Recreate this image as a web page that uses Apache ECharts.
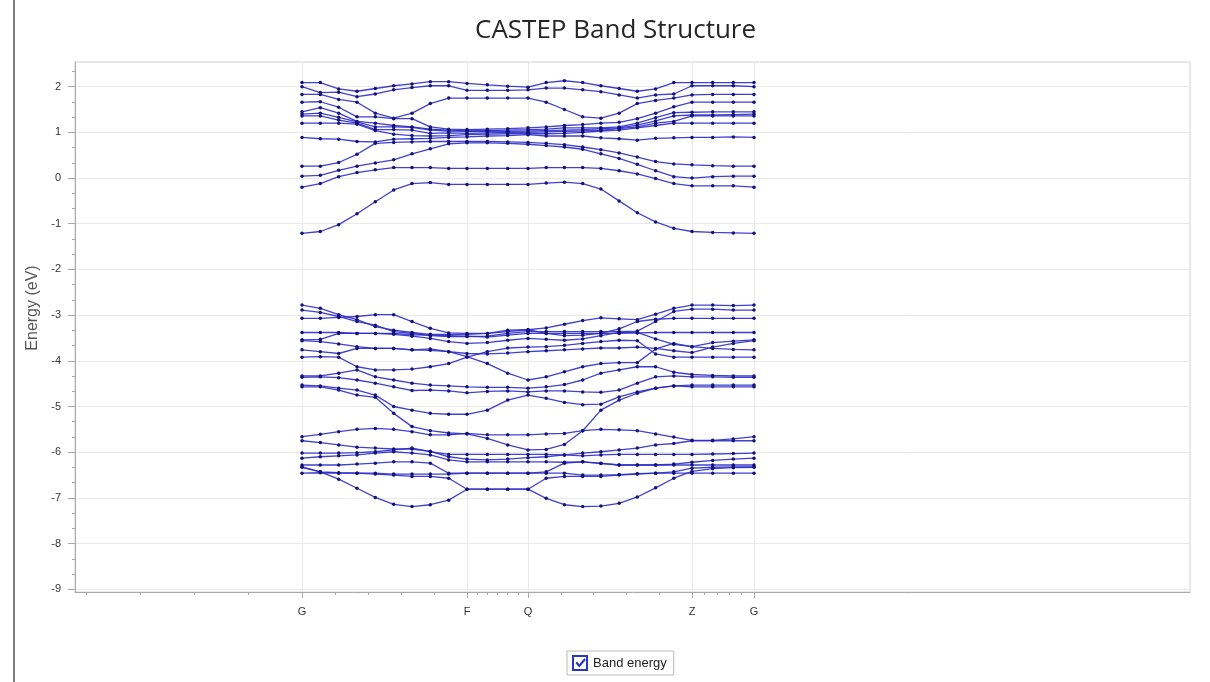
<!DOCTYPE html>
<html>
<head>
<meta charset="UTF-8" />
<title>CASTEP Band Structure</title>
<script src="https://cdn.jsdelivr.net/npm/echarts@6/dist/echarts.min.js"></script>
<style>
  html, body { margin: 0; padding: 0; background: #fff; }
  #chart { width: 1210px; height: 682px; }
</style>
</head>
<body>
<div id="chart"></div>
<script>
// k-path positions (path length, arbitrary units) of the 25 k-points
const kPath = [0, 0.183, 0.367, 0.55, 0.733, 0.917, 1.10, 1.283, 1.467, 1.65,
  1.853, 2.057, 2.26, 2.442, 2.624, 2.807, 2.989, 3.171, 3.353, 3.536, 3.718, 3.90,
  4.107, 4.313, 4.52];

// high-symmetry points
const symPositions = [0, 1.65, 2.26, 3.90, 4.52];
const symLabels = ['G', 'F', 'Q', 'Z', 'G'];
// small ticks along the path axis
const pathMinorTicks = [-2.16, -1.62, -1.08, -0.54, 0.33, 0.66, 0.99, 1.32,
  1.752, 1.853, 1.955, 2.057, 2.158, 2.588, 2.916, 3.244, 3.572,
  4.024, 4.148, 4.272, 4.396];

const energyTicks = [-9, -8, -7, -6, -5, -4, -3, -2, -1, 0, 1, 2];
const energyMinorTicks = [-8.667, -8.333, -7.667, -7.333, -6.667, -6.333, -5.667, -5.333,
  -4.667, -4.333, -3.667, -3.333, -2.667, -2.333, -1.667, -1.333, -0.667, -0.333,
  0.333, 0.667, 1.333, 1.667, 2.333];

// conduction bands (eV)
const cb01 = [-1.21, -1.17, -1.02, -0.78, -0.52, -0.26, -0.12, -0.10, -0.14, -0.14, -0.14, -0.14, -0.14, -0.11, -0.09, -0.12, -0.24, -0.50, -0.76, -0.96, -1.10, -1.17, -1.19, -1.20, -1.21];
const cb02 = [-0.20, -0.12, 0.03, 0.12, 0.18, 0.23, 0.23, 0.23, 0.21, 0.21, 0.21, 0.21, 0.21, 0.23, 0.23, 0.23, 0.21, 0.16, 0.09, -0.01, -0.12, -0.17, -0.17, -0.17, -0.20];
const cb03 = [0.04, 0.06, 0.17, 0.26, 0.33, 0.40, 0.53, 0.64, 0.75, 0.77, 0.77, 0.76, 0.74, 0.71, 0.68, 0.63, 0.53, 0.43, 0.30, 0.16, 0.03, 0.00, 0.03, 0.04, 0.04];
const cb04 = [0.26, 0.26, 0.34, 0.52, 0.76, 0.78, 0.79, 0.80, 0.80, 0.80, 0.80, 0.79, 0.78, 0.76, 0.73, 0.68, 0.62, 0.55, 0.46, 0.36, 0.31, 0.29, 0.27, 0.26, 0.26];
const cb05 = [0.89, 0.86, 0.85, 0.80, 0.79, 0.85, 0.86, 0.87, 0.89, 0.90, 0.92, 0.93, 0.95, 0.92, 0.92, 0.92, 0.88, 0.86, 0.83, 0.87, 0.88, 0.89, 0.89, 0.90, 0.89];
const cb06 = [1.20, 1.20, 1.20, 1.18, 1.04, 0.96, 0.93, 0.92, 0.93, 0.95, 0.96, 0.97, 0.97, 0.97, 0.98, 1.00, 1.03, 1.05, 1.10, 1.15, 1.20, 1.20, 1.20, 1.20, 1.20];
const cb07 = [1.36, 1.36, 1.27, 1.20, 1.06, 1.06, 1.05, 0.98, 0.99, 0.98, 0.99, 1.00, 1.00, 1.01, 1.02, 1.03, 1.05, 1.08, 1.12, 1.20, 1.24, 1.36, 1.36, 1.36, 1.36];
const cb08 = [1.40, 1.42, 1.33, 1.23, 1.12, 1.12, 1.11, 1.05, 1.03, 1.02, 1.02, 1.02, 1.03, 1.04, 1.05, 1.06, 1.08, 1.10, 1.16, 1.25, 1.36, 1.38, 1.38, 1.39, 1.40];
const cb09 = [1.45, 1.54, 1.42, 1.24, 1.20, 1.15, 1.12, 1.07, 1.05, 1.04, 1.04, 1.05, 1.06, 1.07, 1.10, 1.10, 1.10, 1.12, 1.20, 1.32, 1.43, 1.44, 1.45, 1.45, 1.45];
const cb10 = [1.66, 1.67, 1.55, 1.34, 1.34, 1.30, 1.30, 1.12, 1.07, 1.06, 1.07, 1.08, 1.10, 1.12, 1.15, 1.17, 1.20, 1.22, 1.30, 1.42, 1.56, 1.66, 1.66, 1.66, 1.66];
const cb11 = [1.83, 1.83, 1.72, 1.66, 1.42, 1.31, 1.42, 1.63, 1.75, 1.75, 1.75, 1.75, 1.75, 1.66, 1.50, 1.34, 1.31, 1.42, 1.63, 1.70, 1.75, 1.82, 1.83, 1.83, 1.83];
const cb12 = [2.00, 1.87, 1.88, 1.78, 1.84, 1.93, 1.98, 2.02, 2.02, 1.92, 1.92, 1.92, 1.93, 1.97, 1.97, 1.93, 1.89, 1.82, 1.75, 1.82, 1.84, 2.02, 2.02, 2.02, 2.00];
const cb13 = [2.09, 2.09, 1.95, 1.90, 1.96, 2.02, 2.06, 2.11, 2.11, 2.07, 2.04, 2.01, 1.99, 2.09, 2.13, 2.09, 2.02, 1.96, 1.90, 1.95, 2.09, 2.09, 2.09, 2.09, 2.09];

// valence bands (eV)
const vb01 = [-2.78, -2.85, -2.99, -3.10, -3.25, -3.33, -3.38, -3.42, -3.42, -3.42, -3.40, -3.36, -3.32, -3.28, -3.20, -3.12, -3.06, -3.08, -3.10, -2.98, -2.85, -2.78, -2.78, -2.79, -2.78];
const vb02 = [-2.89, -2.94, -3.03, -3.14, -3.22, -3.36, -3.40, -3.45, -3.47, -3.47, -3.46, -3.40, -3.36, -3.36, -3.36, -3.36, -3.36, -3.36, -3.35, -3.14, -2.92, -2.87, -2.87, -2.89, -2.89];
const vb03 = [-3.07, -3.07, -3.05, -3.03, -2.99, -2.99, -3.14, -3.29, -3.39, -3.40, -3.40, -3.33, -3.32, -3.40, -3.45, -3.44, -3.40, -3.30, -3.14, -3.09, -3.07, -3.07, -3.07, -3.07, -3.07];
const vb04 = [-3.38, -3.38, -3.38, -3.40, -3.40, -3.40, -3.43, -3.44, -3.45, -3.46, -3.48, -3.44, -3.40, -3.40, -3.40, -3.40, -3.40, -3.40, -3.39, -3.38, -3.38, -3.38, -3.38, -3.38, -3.38];
const vb05 = [-3.54, -3.53, -3.40, -3.40, -3.40, -3.42, -3.46, -3.51, -3.58, -3.62, -3.60, -3.55, -3.51, -3.53, -3.55, -3.52, -3.45, -3.38, -3.38, -3.52, -3.64, -3.69, -3.60, -3.57, -3.54];
const vb06 = [-3.56, -3.58, -3.63, -3.69, -3.73, -3.73, -3.76, -3.77, -3.80, -3.84, -3.85, -3.83, -3.80, -3.78, -3.76, -3.74, -3.72, -3.72, -3.70, -3.73, -3.78, -3.82, -3.70, -3.62, -3.56];
const vb07 = [-3.76, -3.80, -3.84, -3.73, -3.73, -3.73, -3.76, -3.74, -3.80, -3.91, -4.06, -4.27, -4.42, -4.35, -4.24, -4.13, -4.06, -4.04, -4.04, -3.74, -3.62, -3.69, -3.73, -3.75, -3.76];
const vb08 = [-3.92, -3.91, -3.92, -4.13, -4.20, -4.20, -4.18, -4.13, -4.06, -3.92, -3.80, -3.72, -3.70, -3.69, -3.66, -3.62, -3.58, -3.55, -3.56, -3.85, -3.92, -3.92, -3.92, -3.92, -3.92];
const vb09 = [-4.33, -4.33, -4.27, -4.20, -4.35, -4.42, -4.49, -4.53, -4.55, -4.57, -4.58, -4.58, -4.60, -4.57, -4.52, -4.42, -4.27, -4.20, -4.13, -4.13, -4.25, -4.30, -4.32, -4.33, -4.33];
const vb10 = [-4.36, -4.35, -4.37, -4.42, -4.49, -4.57, -4.65, -4.64, -4.66, -4.70, -4.67, -4.66, -4.68, -4.66, -4.66, -4.68, -4.69, -4.64, -4.49, -4.35, -4.33, -4.35, -4.35, -4.36, -4.36];
const vb11 = [-4.53, -4.55, -4.60, -4.64, -4.75, -5.00, -5.08, -5.15, -5.17, -5.17, -5.08, -4.86, -4.75, -4.82, -4.91, -4.96, -4.95, -4.79, -4.68, -4.60, -4.55, -4.53, -4.53, -4.53, -4.53];
const vb12 = [-4.57, -4.57, -4.64, -4.75, -4.80, -5.15, -5.44, -5.53, -5.58, -5.60, -5.70, -5.84, -5.95, -5.94, -5.83, -5.53, -5.08, -4.86, -4.71, -4.60, -4.55, -4.57, -4.57, -4.57, -4.57];
const vb13 = [-5.66, -5.61, -5.55, -5.50, -5.48, -5.50, -5.55, -5.62, -5.62, -5.59, -5.62, -5.62, -5.62, -5.60, -5.59, -5.53, -5.50, -5.51, -5.53, -5.60, -5.67, -5.74, -5.74, -5.71, -5.66];
const vb14 = [-5.75, -5.79, -5.84, -5.89, -5.91, -5.93, -5.93, -5.98, -6.10, -6.15, -6.17, -6.15, -6.12, -6.10, -6.06, -6.02, -5.99, -5.95, -5.91, -5.84, -5.81, -5.75, -5.75, -5.75, -5.75];
const vb15 = [-6.02, -6.02, -6.02, -6.01, -5.99, -5.95, -5.91, -5.99, -6.05, -6.05, -6.05, -6.05, -6.05, -6.05, -6.06, -6.08, -6.06, -6.05, -6.05, -6.05, -6.05, -6.05, -6.04, -6.03, -6.02];
const vb16 = [-6.13, -6.10, -6.08, -6.06, -6.02, -5.99, -6.02, -6.06, -6.17, -6.21, -6.21, -6.21, -6.21, -6.21, -6.22, -6.21, -6.25, -6.28, -6.28, -6.28, -6.26, -6.22, -6.18, -6.15, -6.13];
const vb17 = [-6.28, -6.28, -6.28, -6.26, -6.24, -6.21, -6.21, -6.24, -6.46, -6.46, -6.46, -6.46, -6.46, -6.43, -6.24, -6.21, -6.24, -6.28, -6.28, -6.28, -6.28, -6.28, -6.28, -6.28, -6.28];
const vb18 = [-6.32, -6.43, -6.45, -6.46, -6.48, -6.50, -6.53, -6.53, -6.57, -6.81, -6.81, -6.81, -6.81, -6.57, -6.53, -6.53, -6.53, -6.50, -6.48, -6.46, -6.43, -6.35, -6.33, -6.32, -6.32];
const vb19 = [-6.33, -6.43, -6.59, -6.79, -6.99, -7.14, -7.19, -7.15, -7.05, -6.81, -6.81, -6.81, -6.81, -7.01, -7.15, -7.19, -7.18, -7.12, -6.98, -6.78, -6.57, -6.42, -6.36, -6.34, -6.33];
const vb20 = [-6.46, -6.45, -6.46, -6.46, -6.46, -6.48, -6.48, -6.48, -6.48, -6.46, -6.46, -6.46, -6.46, -6.46, -6.46, -6.50, -6.50, -6.49, -6.47, -6.46, -6.46, -6.46, -6.46, -6.46, -6.46];

const bands = [cb01, cb02, cb03, cb04, cb05, cb06, cb07, cb08, cb09, cb10, cb11, cb12, cb13,
  vb01, vb02, vb03, vb04, vb05, vb06, vb07, vb08, vb09, vb10, vb11, vb12,
  vb13, vb14, vb15, vb16, vb17, vb18, vb19, vb20];

const X_MIN = -2.27, X_MAX = 8.88;
const Y_MIN = -9.06, Y_MAX = 2.54;
const AXIS_GREY = '#a9a9a9';
const GRID_GREY = '#e9e9e9';
const LABEL_FONT = 'Liberation Sans';

const checkIcon = 'path://M0,0H16V16H0Z M2,2V14H14V2Z M3.5,8.2L5.2,6.6L7.2,9.2L12.3,3.2L13.9,4.7L7.3,12.4Z';

const series = bands.map((b) => ({
  name: 'Band energy',
  type: 'line',
  xAxisIndex: 0,
  yAxisIndex: 0,
  data: kPath.map((k, i) => [k, b[i]]),
  symbol: 'circle',
  symbolSize: 3.5,
  showSymbol: true,
  lineStyle: { color: '#2c2cc8', width: 1.3, opacity: 0.9 },
  itemStyle: { color: '#12127a' },
  emphasis: { disabled: true },
  silent: true,
}));

const chart = echarts.init(document.getElementById('chart'));
chart.setOption({
  animation: false,
  backgroundColor: '#ffffff',
  title: {
    text: 'CASTEP Band Structure',
    left: 470,
    top: 13,
    textStyle: { fontFamily: 'Open Sans', fontSize: 26, fontWeight: 'normal', color: '#262626' },
  },
  graphic: [
    { type: 'rect', left: 13, top: 0, shape: { width: 2, height: 682 }, style: { fill: '#7d7d7d' } },
    {
      type: 'text',
      x: 33,
      y: 308,
      rotation: Math.PI / 2,
      style: {
        text: 'Energy (eV)',
        fontFamily: LABEL_FONT,
        fontSize: 16,
        fill: '#555555',
        align: 'center',
        verticalAlign: 'middle',
      },
    },
  ],
  legend: {
    data: ['Band energy'],
    left: 567,
    top: 651,
    icon: checkIcon,
    itemWidth: 16,
    itemHeight: 16,
    itemGap: 4,
    padding: [4, 7, 4, 5],
    borderColor: '#b9b9b9',
    borderWidth: 1,
    backgroundColor: '#ffffff',
    selectedMode: false,
    itemStyle: { color: '#2838c0' },
    textStyle: { fontFamily: LABEL_FONT, fontSize: 13, color: '#222' },
  },
  grid: {
    left: 75,
    right: 20,
    top: 62,
    bottom: 90,
    show: true,
    borderColor: '#d2d2d2',
    borderWidth: 1,
    backgroundColor: '#ffffff',
  },
  xAxis: [
    {
      type: 'value',
      min: X_MIN,
      max: X_MAX,
      axisLine: { show: true, onZero: false, lineStyle: { color: AXIS_GREY } },
      axisTick: { show: true, customValues: symPositions, length: 6, lineStyle: { color: AXIS_GREY } },
      axisLabel: {
        customValues: symPositions,
        margin: 14,
        fontFamily: LABEL_FONT,
        fontSize: 11,
        color: '#333',
        formatter: (v) => {
          let best = 0;
          symPositions.forEach((p, i) => { if (Math.abs(p - v) < Math.abs(symPositions[best] - v)) best = i; });
          return symLabels[best];
        },
      },
      splitLine: { show: true, lineStyle: { color: GRID_GREY } },
    },
    {
      type: 'value',
      min: X_MIN,
      max: X_MAX,
      position: 'bottom',
      axisLine: { show: false, onZero: false },
      axisTick: { show: true, customValues: pathMinorTicks, length: 3, lineStyle: { color: AXIS_GREY } },
      axisLabel: { show: false },
      splitLine: { show: false },
    },
  ],
  yAxis: [
    {
      type: 'value',
      min: Y_MIN,
      max: Y_MAX,
      axisLine: { show: true, onZero: false, lineStyle: { color: AXIS_GREY } },
      axisTick: { show: true, customValues: energyTicks, length: 7, lineStyle: { color: AXIS_GREY } },
      axisLabel: {
        customValues: energyTicks,
        margin: 14,
        fontFamily: LABEL_FONT,
        fontSize: 11,
        color: '#333',
      },
      splitLine: { show: true, lineStyle: { color: GRID_GREY } },
    },
    {
      type: 'value',
      min: Y_MIN,
      max: Y_MAX,
      position: 'left',
      axisLine: { show: false, onZero: false },
      axisTick: { show: true, customValues: energyMinorTicks, length: 3, lineStyle: { color: AXIS_GREY } },
      axisLabel: { show: false },
      splitLine: { show: false },
    },
  ],
  series,
});
</script>
</body>
</html>
